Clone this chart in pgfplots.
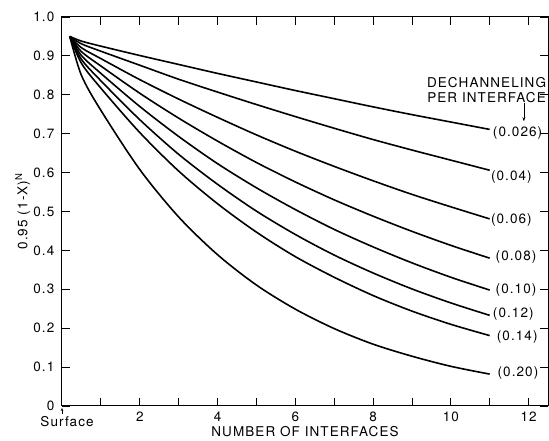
\documentclass[border=0pt]{standalone}
\usepackage{fontspec}
\setmainfont{TeX Gyre Heros}[LetterSpace=8]
\usepackage{pgfplots}
\pgfplotsset{compat=1.18}
\usetikzlibrary{arrows.meta}

\newcommand{\lbl}{\fontsize{13.5}{15}\selectfont}

\begin{document}
\lbl
\begin{tikzpicture}
\begin{axis}[
    scale only axis,
    width=486pt, height=389pt,
    xmin=0, xmax=12.5,
    ymin=0, ymax=1,
    xtick={2,4,6,8,10,12},
    minor xtick={1,3,5,7,9,11},
    ytick={0,0.1,0.2,0.3,0.4,0.5,0.6,0.7,0.8,0.9,1.0},
    yticklabels={0,0.1,0.2,0.3,0.4,0.5,0.6,0.7,0.8,0.9,1.0},
    tick align=inside,
    major tick length=8pt, minor tick length=8pt,
    tick style={black, line width=0.8pt},
    axis line style={line width=1pt},
    /pgf/number format/assume math mode=true,
    ticklabel style={font=\lbl},
    xticklabel style={yshift=-1pt},
    yticklabel style={xshift=-3pt},
    xlabel={NUMBER OF INTERFACES},
    ylabel={0.95 (1-X)\textsuperscript{N}},
    xlabel style={font=\lbl, yshift=4pt},
    ylabel style={font=\lbl, yshift=-6pt},
    curve/.style={black, solid, line width=1.6pt, smooth, no marks},
    clip=false,
]
\coordinate (SW) at (rel axis cs:0,0);
\coordinate (NE) at (rel axis cs:1,1);
% X = 0.026
\addplot[curve] coordinates {(0.2,0.950) (0.5,0.938) (1,0.925) (2,0.901) (3,0.878) (4,0.855) (5,0.833) (6,0.811) (7,0.790) (8,0.769) (9,0.749) (10,0.730) (11,0.711)};
% X = 0.04
\addplot[curve] coordinates {(0.2,0.950) (0.5,0.931) (1,0.912) (2,0.876) (3,0.840) (4,0.807) (5,0.775) (6,0.744) (7,0.714) (8,0.685) (9,0.658) (10,0.632) (11,0.606)};
% X = 0.06
\addplot[curve] coordinates {(0.2,0.950) (0.5,0.921) (1,0.893) (2,0.839) (3,0.789) (4,0.742) (5,0.697) (6,0.655) (7,0.616) (8,0.579) (9,0.544) (10,0.512) (11,0.481)};
% X = 0.08
\addplot[curve] coordinates {(0.2,0.950) (0.5,0.911) (1,0.874) (2,0.804) (3,0.740) (4,0.681) (5,0.626) (6,0.576) (7,0.530) (8,0.488) (9,0.449) (10,0.413) (11,0.380)};
% X = 0.10
\addplot[curve] coordinates {(0.2,0.950) (0.5,0.901) (1,0.855) (2,0.770) (3,0.693) (4,0.623) (5,0.561) (6,0.505) (7,0.454) (8,0.409) (9,0.368) (10,0.331) (11,0.298)};
% X = 0.12
\addplot[curve] coordinates {(0.2,0.950) (0.5,0.891) (1,0.836) (2,0.736) (3,0.647) (4,0.570) (5,0.501) (6,0.441) (7,0.388) (8,0.342) (9,0.301) (10,0.265) (11,0.233)};
% X = 0.14
\addplot[curve] coordinates {(0.2,0.950) (0.5,0.881) (1,0.817) (2,0.703) (3,0.604) (4,0.520) (5,0.447) (6,0.384) (7,0.331) (8,0.284) (9,0.244) (10,0.210) (11,0.181)};
% X = 0.20
\addplot[curve] coordinates {(0.2,0.950) (0.5,0.850) (1,0.760) (2,0.608) (3,0.486) (4,0.389) (5,0.311) (6,0.249) (7,0.199) (8,0.159) (9,0.128) (10,0.102) (11,0.082)};

% curve labels
\begin{scope}[every node/.style={anchor=west, inner sep=0pt, font=\lbl}]
\node at (axis cs:11.08,0.702) {(0.026)};
\node at (axis cs:11.03,0.589) {(0.04)};
\node at (axis cs:11.03,0.478) {(0.06)};
\node at (axis cs:11.15,0.383) {(0.08)};
\node at (axis cs:11.15,0.298) {(0.10)};
\node at (axis cs:11.08,0.236) {(0.12)};
\node at (axis cs:11.18,0.178) {(0.14)};
\node at (axis cs:11.2,0.085) {(0.20)};
\end{scope}
\node[align=center, inner sep=0pt, font=\lbl] at (axis cs:10.92,0.812) {DECHANNELING\\PER INTERFACE};
\draw[line width=0.6pt, -{Stealth[length=4pt, width=3pt]}] (axis cs:11.88,0.779) -- (axis cs:11.88,0.732);

% surface marker
\draw[line width=0.6pt, -{Stealth[length=3pt, width=2.5pt]}] (axis cs:0,0) ++(0,-8pt) -- ++(0,6pt);
\node[anchor=north, inner sep=0pt, font=\lbl] at (axis cs:0.13,0) [yshift=-10pt] {Surface};
\end{axis}
\pgfresetboundingbox
\path (SW) ++(-62pt,-35pt) coordinate (BB1);
\path (NE) ++(1pt,17pt) coordinate (BB2);
\path[use as bounding box] (BB1) rectangle (BB2);
\end{tikzpicture}
\end{document}
